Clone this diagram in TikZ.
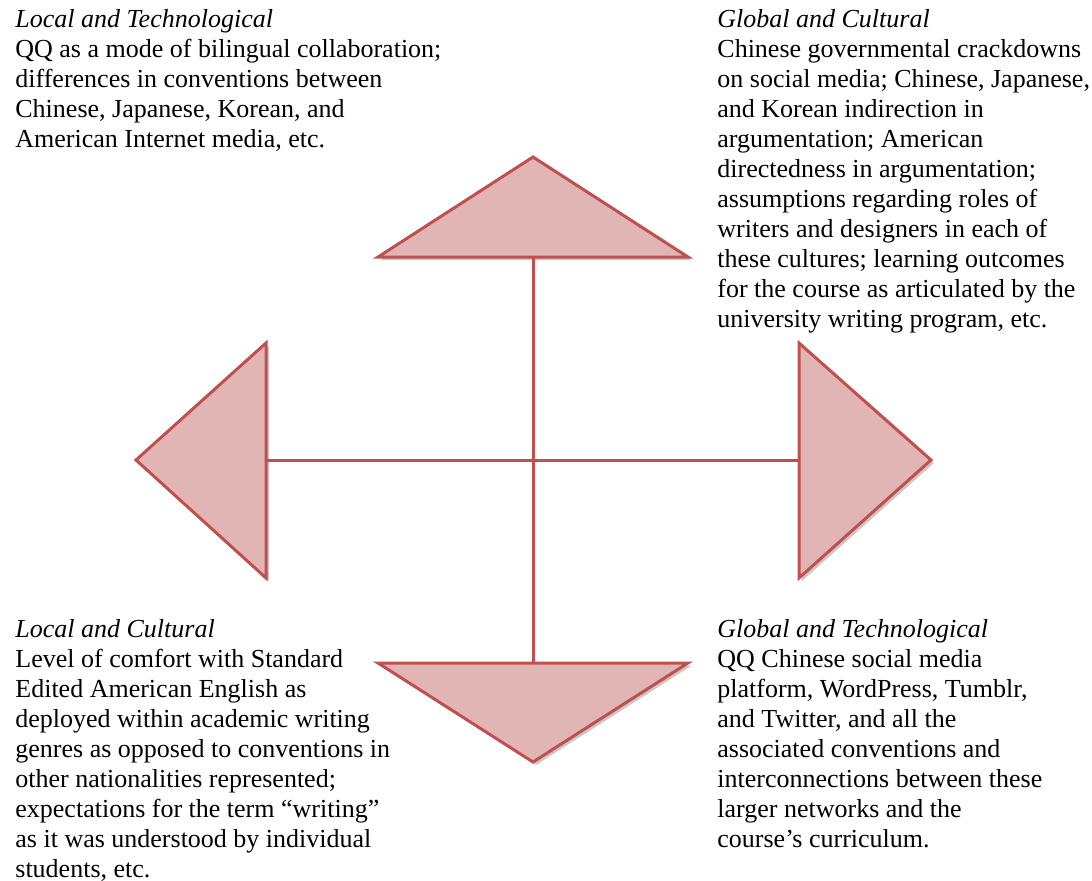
\documentclass[tikz,border=0pt]{standalone}
\usepackage{fontspec}
\setmainfont{Liberation Serif}
\usetikzlibrary{shadows}
\definecolor{trifill}{HTML}{E2B5B5}
\definecolor{triedge}{HTML}{C0504D}
\begin{document}
\begin{tikzpicture}[x=0.5pt,y=-0.5pt,
  arrowtri/.style={fill=trifill,draw=triedge,line width=1.5pt,line join=miter,
    drop shadow={opacity=0.3,fill=black!70,shadow xshift=1.5pt,shadow yshift=-1.5pt}},
  axisline/.style={draw=triedge,line width=1.5pt},
  txt/.style={anchor=base west,inner sep=0pt,font=\fontsize{13}{15}\selectfont}]
\useasboundingbox (0,0) rectangle (1092,880);
% coordinates
\coordinate (topL) at (378,257);
\coordinate (topR) at (688,257);
\coordinate (topA) at (533,157);
\coordinate (topB) at (533,257);
\coordinate (botL) at (378,663);
\coordinate (botR) at (688,663);
\coordinate (botA) at (533,762);
\coordinate (botB) at (533,663);
\coordinate (lefT) at (266,343);
\coordinate (lefD) at (266,578);
\coordinate (lefA) at (136,460);
\coordinate (lefB) at (266,460);
\coordinate (rigT) at (799,343);
\coordinate (rigD) at (799,578);
\coordinate (rigA) at (931,460);
\coordinate (rigB) at (799,460);
% triangles
\path[arrowtri] (topA) -- (topR) -- (topL) -- cycle;
\path[arrowtri] (botA) -- (botR) -- (botL) -- cycle;
\path[arrowtri] (lefA) -- (lefT) -- (lefD) -- cycle;
\path[arrowtri] (rigA) -- (rigT) -- (rigD) -- cycle;
% axes
\draw[axisline] (topB) -- (botB);
\draw[axisline] (lefB) -- (rigB);
% texts
\node[txt] (lt) at (15,27) {\begin{minipage}[t]{300pt}
\textit{Local and Technological}\\
QQ as a mode of bilingual collaboration;\\
differences in conventions between\\
Chinese, Japanese, Korean, and\\
American Internet media, etc.\end{minipage}};
\node[txt] (gc) at (717,27) {\begin{minipage}[t]{300pt}
\textit{Global and Cultural}\\
Chinese governmental crackdowns\\
on social media; Chinese, Japanese,\\
and Korean indirection in\\
argumentation; American\\
directedness in argumentation;\\
assumptions regarding roles of\\
writers and designers in each of\\
these cultures; learning outcomes\\
for the course as articulated by the\\
university writing program, etc.\end{minipage}};
\node[txt] (lc) at (15,637) {\begin{minipage}[t]{300pt}
\textit{Local and Cultural}\\
Level of comfort with Standard\\
Edited American English as\\
deployed within academic writing\\
genres as opposed to conventions in\\
other nationalities represented;\\
expectations for the term “writing”\\
as it was understood by individual\\
students, etc.\end{minipage}};
\node[txt] (gt) at (717,637) {\begin{minipage}[t]{300pt}
\textit{Global and Technological}\\
QQ Chinese social media\\
platform, WordPress, Tumblr,\\
and Twitter, and all the\\
associated conventions and\\
interconnections between these\\
larger networks and the\\
course’s curriculum.\end{minipage}};
\end{tikzpicture}
\end{document}
